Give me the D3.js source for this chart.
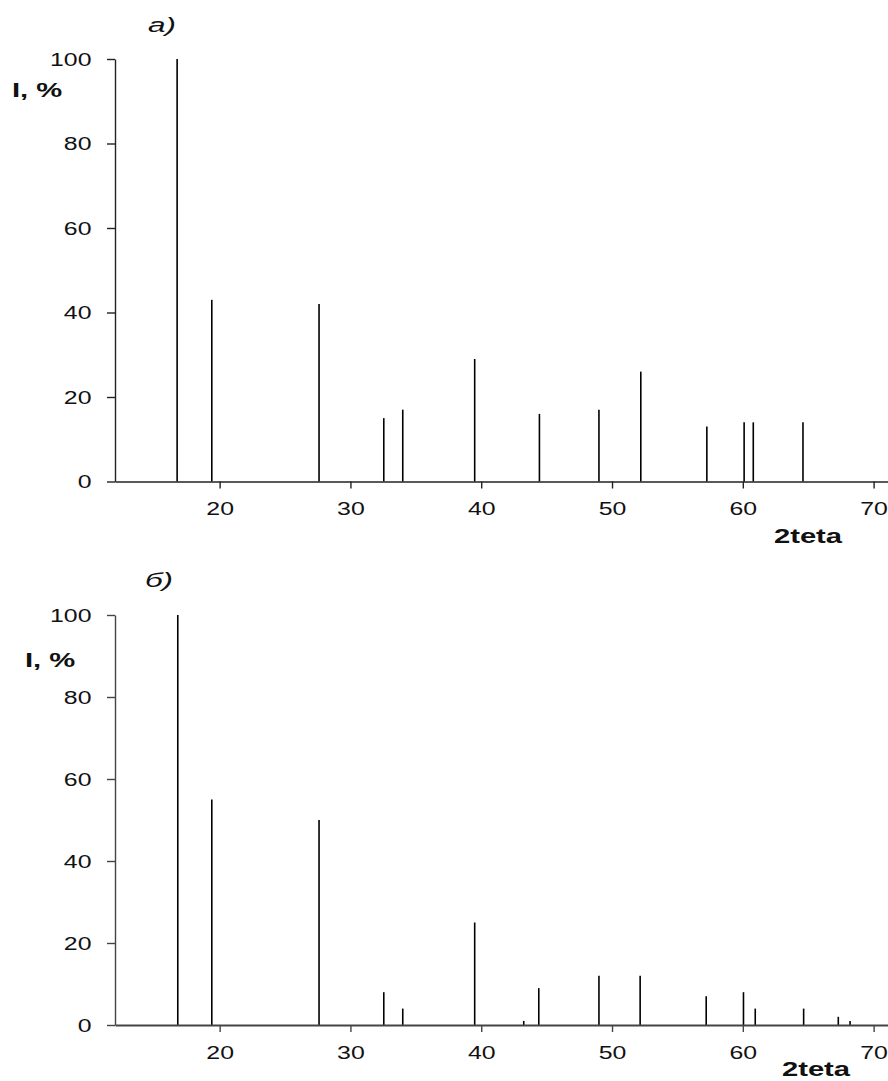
<!DOCTYPE html>
<html>
<head>
<meta charset="utf-8">
<script src="https://cdn.jsdelivr.net/npm/d3@7"></script>
<style>
  html, body { margin: 0; padding: 0; background: #fff; }
  svg { display: block; font-family: "Liberation Sans", Arial, sans-serif; }
</style>
</head>
<body>
<svg id="chart" width="888" height="1081"></svg>
<script>
// ---- data ----
const twoThetaA = [16.75, 19.4, 27.6, 32.55, 34.0, 39.5, 44.45, 49.0, 52.2, 57.25, 60.1, 60.8, 64.6];
const intensityA = [100, 43, 42, 15, 17, 29, 16, 17, 26, 13, 14, 14, 14];
const twoThetaB = [16.8, 19.4, 27.6, 32.55, 34.0, 39.5, 43.25, 44.4, 49.0, 52.15, 57.2, 60.05, 60.95, 64.65, 67.3, 68.2];
const intensityB = [100, 55, 50, 8, 4, 25, 1, 9, 12, 12, 7, 8, 4, 4, 2, 1];
const xTicks = [20, 30, 40, 50, 60, 70];
const yTicks = [0, 20, 40, 60, 80, 100];
const panelLabels = ["а)", "б)"];
const yLabel = "I, %";
const xLabel = "2teta";

const svg = d3.select("#chart");
const TICK_SCALE = 1.42, LABEL_SCALE = 1.46, PANEL_SCALE = 1.5;

function stretchText(sel, k) {
  sel.each(function () {
    const t = d3.select(this);
    const x = +t.attr("x") || 0, y = +t.attr("y") || 0;
    t.attr("x", 0).attr("y", 0).attr("transform", `translate(${x},${y}) scale(${k},1)`);
  });
}

const panels = [
  { xs: twoThetaA, ys: intensityA, top: 59, bottom: 481.5, label: panelLabels[0],
    labelPos: [162, 31.5], yLabelPos: [12, 97], xLabelPos: [808, 543],
    axisColor: "#222", xAxisWidth: 1.4 },
  { xs: twoThetaB, ys: intensityB, top: 615, bottom: 1025, label: panelLabels[1],
    labelPos: [159, 587], yLabelPos: [25, 667], xLabelPos: [816, 1076],
    axisColor: "#444", xAxisWidth: 2 }
];

panels.forEach(p => {
  const x = d3.scaleLinear().domain([12, 71.1]).range([115, 888]);
  const y = d3.scaleLinear().domain([0, 100]).range([p.bottom, p.top]);
  const g = svg.append("g");

  // peaks
  g.append("g").selectAll("line").data(p.xs.map((v, i) => [v, p.ys[i]])).join("line")
    .attr("x1", d => x(d[0])).attr("x2", d => x(d[0]))
    .attr("y1", y(0)).attr("y2", d => y(d[1]))
    .attr("stroke", "#000").attr("stroke-width", 1.6);

  // y axis
  const ya = g.append("g").attr("transform", `translate(${x(12)},0)`)
    .call(d3.axisLeft(y).tickValues(yTicks).tickSize(8).tickSizeOuter(0).tickPadding(15));
  ya.select(".domain").attr("stroke", p.axisColor).attr("stroke-width", 1.4);
  ya.selectAll(".tick line").attr("stroke", p.axisColor).attr("stroke-width", 1.4);
  ya.selectAll(".tick text").attr("font-size", 17.5).attr("fill", "#111")
    .attr("font-family", "'Liberation Sans', Arial, sans-serif")
    .attr("x", -23.5).attr("dy", "0.36em");
  stretchText(ya.selectAll(".tick text"), TICK_SCALE);

  // x axis
  const xa = g.append("g").attr("transform", `translate(0,${y(0)})`)
    .call(d3.axisBottom(x).tickValues(xTicks).tickSize(7).tickSizeOuter(0));
  xa.select(".domain").attr("stroke", p.axisColor).attr("stroke-width", p.xAxisWidth);
  xa.selectAll(".tick line").attr("stroke", p.axisColor).attr("stroke-width", 1.4);
  xa.selectAll(".tick text").attr("font-size", 17.5).attr("fill", "#111")
    .attr("font-family", "'Liberation Sans', Arial, sans-serif")
    .attr("y", 33.5).attr("dy", 0);
  stretchText(xa.selectAll(".tick text"), TICK_SCALE);

  // panel label
  const pl = g.append("text").attr("x", p.labelPos[0]).attr("y", p.labelPos[1])
    .attr("text-anchor", "middle").attr("font-style", "italic").attr("font-size", 21)
    .attr("fill", "#111").text(p.label);
  stretchText(pl, PANEL_SCALE);

  // y label
  const yl = g.append("text").attr("x", p.yLabelPos[0]).attr("y", p.yLabelPos[1])
    .attr("font-weight", "bold").attr("font-size", 20).attr("fill", "#111").text(yLabel);
  stretchText(yl, LABEL_SCALE);

  // x label
  const xl = g.append("text").attr("x", p.xLabelPos[0]).attr("y", p.xLabelPos[1])
    .attr("text-anchor", "middle").attr("font-weight", "bold").attr("font-size", 20)
    .attr("fill", "#111").text(xLabel);
  stretchText(xl, LABEL_SCALE);
});
</script>
</body>
</html>
